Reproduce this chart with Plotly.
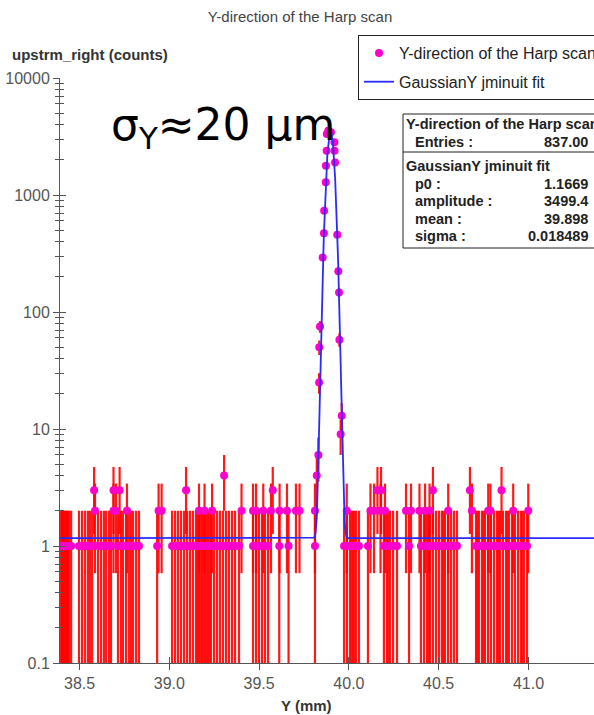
import numpy as np
import plotly.graph_objects as go

# ---------------- data ----------------
# scan positions (mm) of the points with 1, 2, 3 and 4 counts (baseline)
x_count1 = [38.397, 38.402, 38.408, 38.413, 38.419, 38.424, 38.430, 38.436, 38.442, 38.453,
            38.497, 38.514, 38.531, 38.547,
            38.558, 38.570, 38.603, 38.620, 38.636, 38.648, 38.664, 38.675, 38.714, 38.731,
            38.742, 38.759, 38.776, 38.787, 38.798, 38.815, 38.831, 38.932,
            39.015, 39.032, 39.048, 39.065, 39.082, 39.099, 39.115, 39.132, 39.149, 39.157,
            39.165, 39.174, 39.182, 39.190, 39.199, 39.207, 39.215, 39.224, 39.232, 39.249,
            39.266, 39.282, 39.299, 39.316, 39.332,
            39.349, 39.366, 39.388, 39.466, 39.483, 39.499, 39.516, 39.533, 39.550, 39.612,
            39.664, 39.811,
            39.973, 39.989, 40.006, 40.014, 40.023, 40.031, 40.040, 40.056, 40.106, 40.195,
            40.212, 40.220, 40.229, 40.246, 40.268, 40.335, 40.401, 40.418, 40.435, 40.444,
            40.452, 40.468, 40.485, 40.502, 40.518, 40.527, 40.535, 40.552, 40.569, 40.585,
            40.602, 40.708, 40.716, 40.724, 40.741, 40.750, 40.758, 40.775, 40.791, 40.808,
            40.825, 40.833, 40.841, 40.858, 40.875, 40.883, 40.891, 40.908, 40.925, 40.942,
            40.958, 40.966, 40.975, 40.992]
x_count2 = [38.586, 38.689, 38.703, 38.764, 38.940, 38.957, 39.165, 39.196, 39.238, 39.402,
            39.466, 39.483, 39.523, 39.566, 39.614, 39.655, 39.705, 39.725, 39.811, 39.988,
            40.120, 40.140, 40.176, 40.201, 40.318, 40.346, 40.393, 40.424, 40.449, 40.553,
            40.685, 40.776, 40.788, 40.915, 40.999]
x_count3 = [38.581, 38.689, 38.723, 39.093, 39.576, 40.159, 40.179, 40.468, 40.674, 40.850]
x_count4 = [39.305]

# beam peak
peak_x = [39.821, 39.830, 39.834, 39.835, 39.839, 39.854, 39.861, 39.862, 39.871, 39.872,
          39.876, 39.877, 39.885, 39.900, 39.919, 39.920, 39.923, 39.935, 39.941, 39.945,
          39.947, 39.954, 39.960]
peak_counts = [4, 6, 25, 50, 75, 293, 470, 734, 1283, 1780,
               2390, 3320, 3540, 3435, 2820, 2390, 1900, 458, 223, 147,
               58, 9, 13]

# fit parameters (stats box)
entries = 837.00
fit_p0 = 1.1669
fit_amp = 3499.4
fit_mean = 39.898
fit_sigma = 0.018489

# axes
x_range = [38.391, 41.365]
y_range_log = [-1, 4]
x_tick_vals = [38.5, 39.0, 39.5, 40.0, 40.5, 41.0]
x_tick_text = ["38.5", "39.0", "39.5", "40.0", "40.5", "41.0"]
y_tick_vals = [0.1, 1, 10, 100, 1000, 10000]
y_tick_text = ["0.1", "1", "10", "100", "1000", "10000"]
y_minor_vals = [m * 10.0 ** e for e in range(-1, 4) for m in range(2, 10)]

# ---------------- assemble series ----------------
xs = x_count1 + x_count2 + x_count3 + x_count4 + peak_x
ys = ([1] * len(x_count1) + [2] * len(x_count2) + [3] * len(x_count3)
      + [4] * len(x_count4) + peak_counts)
order = np.argsort(xs, kind="stable")
xs = np.array(xs)[order]
ys = np.array(ys, dtype=float)[order]
errs = np.sqrt(ys)

# fit curve evaluated from the fit parameters over the axis span
fit_x = np.union1d(np.linspace(x_range[0], x_range[1], 1200), xs)
fit_y = fit_p0 + fit_amp * np.exp(-(fit_x - fit_mean) ** 2 / (2 * fit_sigma ** 2))

# ---------------- figure geometry ----------------
W, H = 594, 715
ML, MR, MT, MB = 60, 0, 78, 52
PW = W - ML - MR
PH = H - MT - MB
PB = H - MB


def px_x(px):
    return (px - ML) / PW


def px_y(py):
    return (PB - py) / PH


FONT = "Liberation Sans, Arial, sans-serif"
AX = "#555555"

fig = go.Figure()
fig.add_trace(go.Scatter(
    x=xs, y=ys, mode="markers", name="Y-direction of the Harp scan",
    legendgroup="a",
    marker=dict(color="#ff00cc", size=8, line=dict(width=0)),
    error_y=dict(type="data", array=errs, visible=True, color="rgba(255,0,0,0.9)",
                 thickness=2.2, width=0),
))
fig.add_trace(go.Scatter(
    x=fit_x, y=fit_y, mode="lines", name="GaussianY jminuit fit",
    legendgroup="b",
    line=dict(color="#2a2aff", width=1.8),
))
# empty traces binding the overlay axes (inner half of the crossing ticks)
fig.add_trace(go.Scatter(x=[], y=[], xaxis="x2", yaxis="y", showlegend=False, hoverinfo="skip"))
fig.add_trace(go.Scatter(x=[], y=[], xaxis="x", yaxis="y2", showlegend=False, hoverinfo="skip"))

tickfont = dict(family=FONT, size=16, color="#555555")

fig.update_layout(
    width=W, height=H,
    margin=dict(l=ML, r=MR, t=MT, b=MB, autoexpand=False),
    paper_bgcolor="white", plot_bgcolor="white",
    font=dict(family=FONT, color="#333333"),
    title=dict(text="Y-direction of the Harp scan", xref="container", x=0.505,
               xanchor="center", y=1 - 17 / H, yanchor="middle",
               font=dict(family=FONT, size=15, color="#444444")),
    xaxis=dict(range=x_range, tickmode="array", tickvals=x_tick_vals, ticktext=x_tick_text,
               ticks="outside", ticklen=6, tickcolor=AX, tickwidth=1,
               showline=True, linecolor=AX, linewidth=1, showgrid=False, zeroline=False,
               tickfont=tickfont),
    xaxis2=dict(range=x_range, overlaying="x", anchor="y", side="bottom",
                tickmode="array", tickvals=x_tick_vals, ticks="inside", ticklen=6,
                tickcolor=AX, showticklabels=False, showline=False, showgrid=False,
                zeroline=False),
    yaxis=dict(type="log", range=y_range_log, tickmode="array", tickvals=y_tick_vals,
               ticktext=y_tick_text, ticks="outside", ticklen=6, tickcolor=AX,
               showline=True, linecolor=AX, linewidth=1, showgrid=False, zeroline=False,
               tickfont=tickfont,
               minor=dict(tickmode="array", tickvals=y_minor_vals, ticks="outside",
                          ticklen=4, tickcolor=AX, showgrid=False)),
    yaxis2=dict(type="log", range=y_range_log, overlaying="y", anchor="x", side="left",
                tickmode="array", tickvals=y_tick_vals, ticks="inside", ticklen=6,
                tickcolor=AX, showticklabels=False, showline=False, showgrid=False,
                zeroline=False,
                minor=dict(tickmode="array", tickvals=y_minor_vals, ticks="inside",
                           ticklen=4, tickcolor=AX, showgrid=False)),
    legend=dict(x=px_x(358), y=px_y(35), xanchor="left", yanchor="top",
                bgcolor="white", bordercolor="#222222", borderwidth=1,
                font=dict(family=FONT, size=16, color="#222222"),
                traceorder="grouped", tracegroupgap=5, itemwidth=30),
    showlegend=True,
)

# y axis title (horizontal, top-left) and x axis title
fig.add_annotation(text="<b>upstrm_right (counts)</b>", xref="paper", yref="paper",
                   x=px_x(10), y=px_y(55), xanchor="left", yanchor="middle",
                   showarrow=False, font=dict(family=FONT, size=15, color="#333333"))
fig.add_annotation(text="<b>Y (mm)</b>", xref="paper", yref="paper",
                   x=px_x(306), y=px_y(705), xanchor="center", yanchor="middle",
                   showarrow=False, font=dict(family=FONT, size=15, color="#333333"))

# big label
fig.add_annotation(text="σ<sub>Y</sub>≈20 μm", xref="paper", yref="paper",
                   x=px_x(223), y=px_y(127), xanchor="center", yanchor="middle",
                   showarrow=False,
                   font=dict(family="DejaVu Sans, sans-serif", size=44, color="black"))

# stats box
fig.add_shape(type="rect", xref="paper", yref="paper",
              x0=px_x(403), x1=px_x(640), y0=px_y(248), y1=px_y(114),
              line=dict(color="#222222", width=1), fillcolor="white", layer="above")
fig.add_shape(type="line", xref="paper", yref="paper",
              x0=px_x(403), x1=px_x(640), y0=px_y(152), y1=px_y(152),
              line=dict(color="#222222", width=1), layer="above")

stat_font = dict(family=FONT, size=14.5, color="#222222")
rows = [
    ("Y-direction of the Harp scan", None, 124, 404),
    ("Entries :", f"{entries:.2f}", 142, 413),
    ("GaussianY jminuit fit", None, 166, 404),
    ("p0 :", f"{fit_p0:.4f}", 184, 413),
    ("amplitude :", f"{fit_amp:.1f}", 201, 413),
    ("mean :", f"{fit_mean:.3f}", 219, 413),
    ("sigma :", f"{fit_sigma:.6f}", 236, 413),
]
for label, value, ypx, xpx in rows:
    fig.add_annotation(text=f"<b>{label}</b>", xref="paper", yref="paper",
                       x=px_x(xpx), y=px_y(ypx), xanchor="left", yanchor="middle",
                       showarrow=False, font=stat_font)
    if value is not None:
        fig.add_annotation(text=f"<b>{value}</b>", xref="paper", yref="paper",
                           x=px_x(590), y=px_y(ypx), xanchor="right", yanchor="middle",
                           showarrow=False, font=stat_font)

fig.write_html("out.html")
